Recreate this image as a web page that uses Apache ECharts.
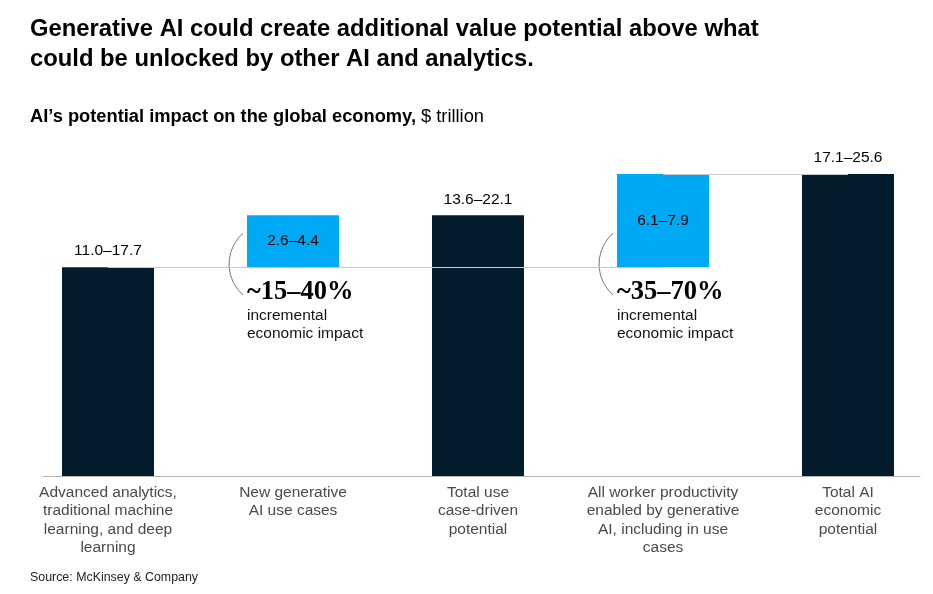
<!DOCTYPE html>
<html>
<head>
<meta charset="utf-8">
<script src="https://cdn.jsdelivr.net/npm/echarts@6/dist/echarts.min.js"></script>
<style>
  html, body { margin: 0; padding: 0; background: #fff; }
  #chart { width: 933px; height: 594px; }
</style>
</head>
<body>
<div id="chart"></div>
<script>
var categories = [
    'Advanced analytics,\ntraditional machine\nlearning, and deep\nlearning',
    'New generative\nAI use cases',
    'Total use\ncase-driven\npotential',
    'All worker productivity\nenabled by generative\nAI, including in use\ncases',
    'Total AI\neconomic\npotential'
];
// upper end of each range, in $ trillion
var baseValues = [0, 17.7, 0, 17.7, 0];
var barValues = [17.7, 4.4, 22.1, 7.9, 25.6];
var rangeLabels = ['11.0–17.7', '2.6–4.4', '13.6–22.1', '6.1–7.9', '17.1–25.6'];
var isIncrement = [false, true, false, true, false];
var impactLabels = ['', '~15–40%', '', '~35–70%', ''];

var DARK = '#051c2c';
var BLUE = '#00a9f4';
var SANS = '"Liberation Sans", Arial, sans-serif';

var tops = barValues.map(function (v, i) { return v + baseValues[i]; });

var chart = echarts.init(document.getElementById('chart'));

var option = {
    animation: false,
    backgroundColor: '#fff',
    title: [{
        text: 'Generative AI could create additional value potential above what\ncould be unlocked by other AI and analytics.',
        left: 30,
        top: 14,
        padding: 0,
        textStyle: { fontFamily: SANS, fontSize: 23.8, fontWeight: 'bold', lineHeight: 30, color: '#000' }
    }, {
        text: '{b|AI’s potential impact on the global economy,} {n|$ trillion}',
        left: 30,
        top: 108,
        padding: 0,
        textStyle: {
            rich: {
                b: { fontFamily: SANS, fontSize: 18.3, fontWeight: 'bold', color: '#000' },
                n: { fontFamily: SANS, fontSize: 18.3, fontWeight: 'normal', color: '#000' }
            }
        }
    }, {
        text: 'Source: McKinsey & Company',
        left: 30,
        top: 572,
        padding: 0,
        textStyle: { fontFamily: SANS, fontSize: 12.4, fontWeight: 'normal', color: '#222' }
    }],
    grid: [
        { left: 15.5, width: 925, top: 122, bottom: 118, outerBoundsMode: 'none', containLabel: false },
        { left: 43, right: 13, top: 122, bottom: 118, outerBoundsMode: 'none', containLabel: false }
    ],
    xAxis: [{
        type: 'category',
        data: categories,
        gridIndex: 0,
        axisLine: { show: false },
        axisTick: { show: false },
        axisLabel: {
            interval: 0,
            margin: 7,
            fontFamily: SANS,
            fontSize: 15.5,
            lineHeight: 18.5,
            color: '#4a4a4a',
            verticalAlign: 'top'
        }
    }, {
        type: 'category',
        data: [''],
        gridIndex: 1,
        axisLine: { show: true, lineStyle: { color: '#b5b5b5', width: 1 } },
        axisTick: { show: false },
        axisLabel: { show: false }
    }],
    yAxis: [{
        type: 'value',
        gridIndex: 0,
        min: 0,
        max: 30,
        show: false
    }, {
        type: 'value',
        gridIndex: 1,
        min: 0,
        max: 1,
        show: false
    }],
    series: [{
        name: 'base',
        type: 'bar',
        stack: 'w',
        barWidth: 92,
        z: 1,
        silent: true,
        itemStyle: { color: 'rgba(0,0,0,0)' },
        data: baseValues,
        markLine: {
            silent: true,
            symbol: 'none',
            label: { show: false },
            lineStyle: { color: '#c8c8c8', width: 1, type: 'solid' },
            data: [
                [{ coord: [0, tops[0]] }, { coord: [3, baseValues[3]] }],
                [{ coord: [3, tops[3]] }, { coord: [4, tops[4]] }]
            ]
        }
    }, {
        name: 'value',
        type: 'bar',
        stack: 'w',
        barWidth: 92,
        z: 3,
        data: barValues.map(function (v, i) {
            return {
                value: v,
                itemStyle: { color: isIncrement[i] ? BLUE : DARK },
                label: {
                    show: true,
                    position: isIncrement[i] ? 'inside' : 'top',
                    distance: 8,
                    formatter: rangeLabels[i],
                    fontFamily: SANS,
                    fontSize: 15.5,
                    color: '#000'
                }
            };
        })
    }]
};

chart.setOption(option);

// bracket and "incremental economic impact" notes beside the blue bars
var graphics = [];
impactLabels.forEach(function (txt, i) {
    if (!txt) return;
    var p = chart.convertToPixel({ gridIndex: 0 }, [i, baseValues[i]]);
    var left = p[0] - 46;
    var y = p[1];
    graphics.push({
        type: 'arc',
        shape: { cx: left + 23, cy: y - 3, r: 41, startAngle: 131 * Math.PI / 180, endAngle: 229 * Math.PI / 180 },
        style: { stroke: '#777', fill: null, lineWidth: 1 }
    });
    graphics.push({
        type: 'text',
        x: left,
        y: y + 12,
        style: { text: txt, fontFamily: '"Liberation Serif", "DejaVu Serif", serif', fontSize: 26.5, fontWeight: 'bold', fill: '#000', verticalAlign: 'top' }
    });
    graphics.push({
        type: 'text',
        x: left,
        y: y + 40,
        style: { text: 'incremental\neconomic impact', fontFamily: SANS, fontSize: 15.5, lineHeight: 18, fill: '#111', verticalAlign: 'top' }
    });
});
chart.setOption({ graphic: graphics });
</script>
</body>
</html>
